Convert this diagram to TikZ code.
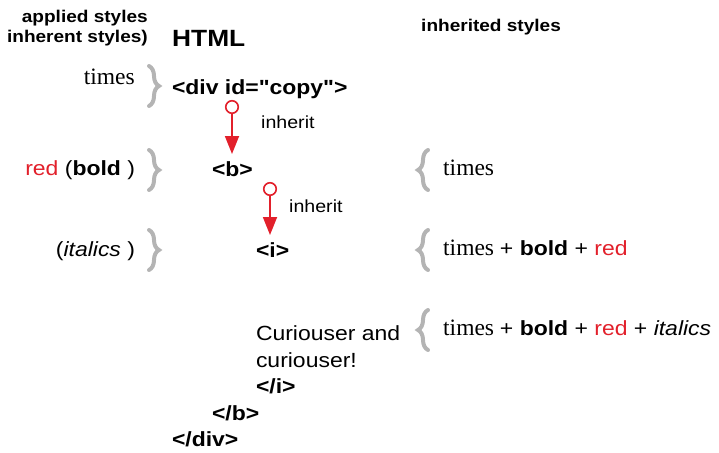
\documentclass[tikz,border=0pt]{standalone}
\usepackage{fontspec}
\setmainfont{Liberation Serif}
\setsansfont{Liberation Sans}
\newfontfamily\sansw[FakeStretch=1.12]{Liberation Sans}
\usetikzlibrary{arrows.meta,decorations.pathreplacing}
\definecolor{redc}{HTML}{E2202B}
\definecolor{grayc}{HTML}{B4B4B4}
\begin{document}
\begin{tikzpicture}[x=1pt,y=-1pt,
  txt/.style={inner sep=0pt,outer sep=0pt,font=\sansw\fontsize{20.5}{24}\selectfont},
  tagtxt/.style={txt,font=\sansw\bfseries\fontsize{20.5}{24}\selectfont},
  hdr/.style={inner sep=0pt,font=\sansw\bfseries\fontsize{17}{20}\selectfont},
  serif/.style={inner sep=0pt,font=\rmfamily\fontsize{23.5}{26}\selectfont},
  inh/.style={inner sep=0pt,font=\sansw\fontsize{17.5}{20}\selectfont},
  gbrace/.style={draw=grayc,line width=4pt,line cap=round,decorate,decoration={brace,amplitude=10pt}},
  ring/.style={circle,draw=redc,line width=1.6pt,minimum size=12.5pt,inner sep=0pt,outer sep=0pt},
  inharrow/.style={draw=redc,line width=1.8pt,-{Triangle[length=18pt,width=14pt]}}
]
\useasboundingbox (0,0) rectangle (719,452);
% headers
\node[hdr,anchor=base east] (ap) at (148,23) {applied styles};
\node[hdr,anchor=base east] (ih) at (148,43) {inherent styles)};
\node[inner sep=0pt,anchor=base west,font=\sansw\bfseries\fontsize{23.5}{26}\selectfont] (html) at (172,46) {HTML};
\node[hdr,anchor=base west] (inhs) at (421,32) {inherited styles};
% left column
\node[serif,anchor=base east] (t1) at (135,84) {times};
\node[txt,anchor=base east] (rb) at (135,175) {\textcolor{redc}{red} (\textbf{bold} )};
\node[txt,anchor=base east] (it) at (135,256) {(\textit{italics} )};
% left braces
\draw[gbrace] (149,66) -- (149,106);
\draw[gbrace] (149,150) -- (149,190);
\draw[gbrace] (149,230) -- (149,270);
% html tags
\node[tagtxt,anchor=base west] (div) at (172,94) {<div id="copy">};
\node[tagtxt,anchor=base west] (b) at (212,176) {<b>};
\node[tagtxt,anchor=base west] (i) at (256,257) {<i>};
\node[txt,anchor=base west] (cur1) at (256,340) {Curiouser and};
\node[txt,anchor=base west] (cur2) at (256,367) {curiouser!};
\node[tagtxt,anchor=base west] (ci) at (256,393) {</i>};
\node[tagtxt,anchor=base west] (cb) at (212,420) {</b>};
\node[tagtxt,anchor=base west] (cdiv) at (172,446) {</div>};
% arrows
\node[ring] (c1) at (232,107) {};
\node[ring] (c2) at (270,189) {};
\coordinate (a1e) at (232,154);
\coordinate (a2e) at (270,235);
\draw[inharrow] (c1.south) -- (a1e);
\draw[inharrow] (c2.south) -- (a2e);
\node[inh,anchor=base west] (lab1) at (261,128) {inherit};
\node[inh,anchor=base west] (lab2) at (289,212) {inherit};
% right braces
\draw[gbrace] (428,190) -- (428,150);
\draw[gbrace] (428,270) -- (428,230);
\draw[gbrace] (428,350) -- (428,310);
% right column
\node[serif,anchor=base west] (r1) at (443,175) {times};
\node[serif,anchor=base west] (r2) at (443,255) {times {\sansw\fontsize{20.5}{24}\selectfont + \textbf{bold} + \textcolor{redc}{red}}};
\node[serif,anchor=base west] (r3) at (443,335) {times {\sansw\fontsize{20.5}{24}\selectfont + \textbf{bold} + \textcolor{redc}{red} + \textit{italics}}};
\end{tikzpicture}
\end{document}
